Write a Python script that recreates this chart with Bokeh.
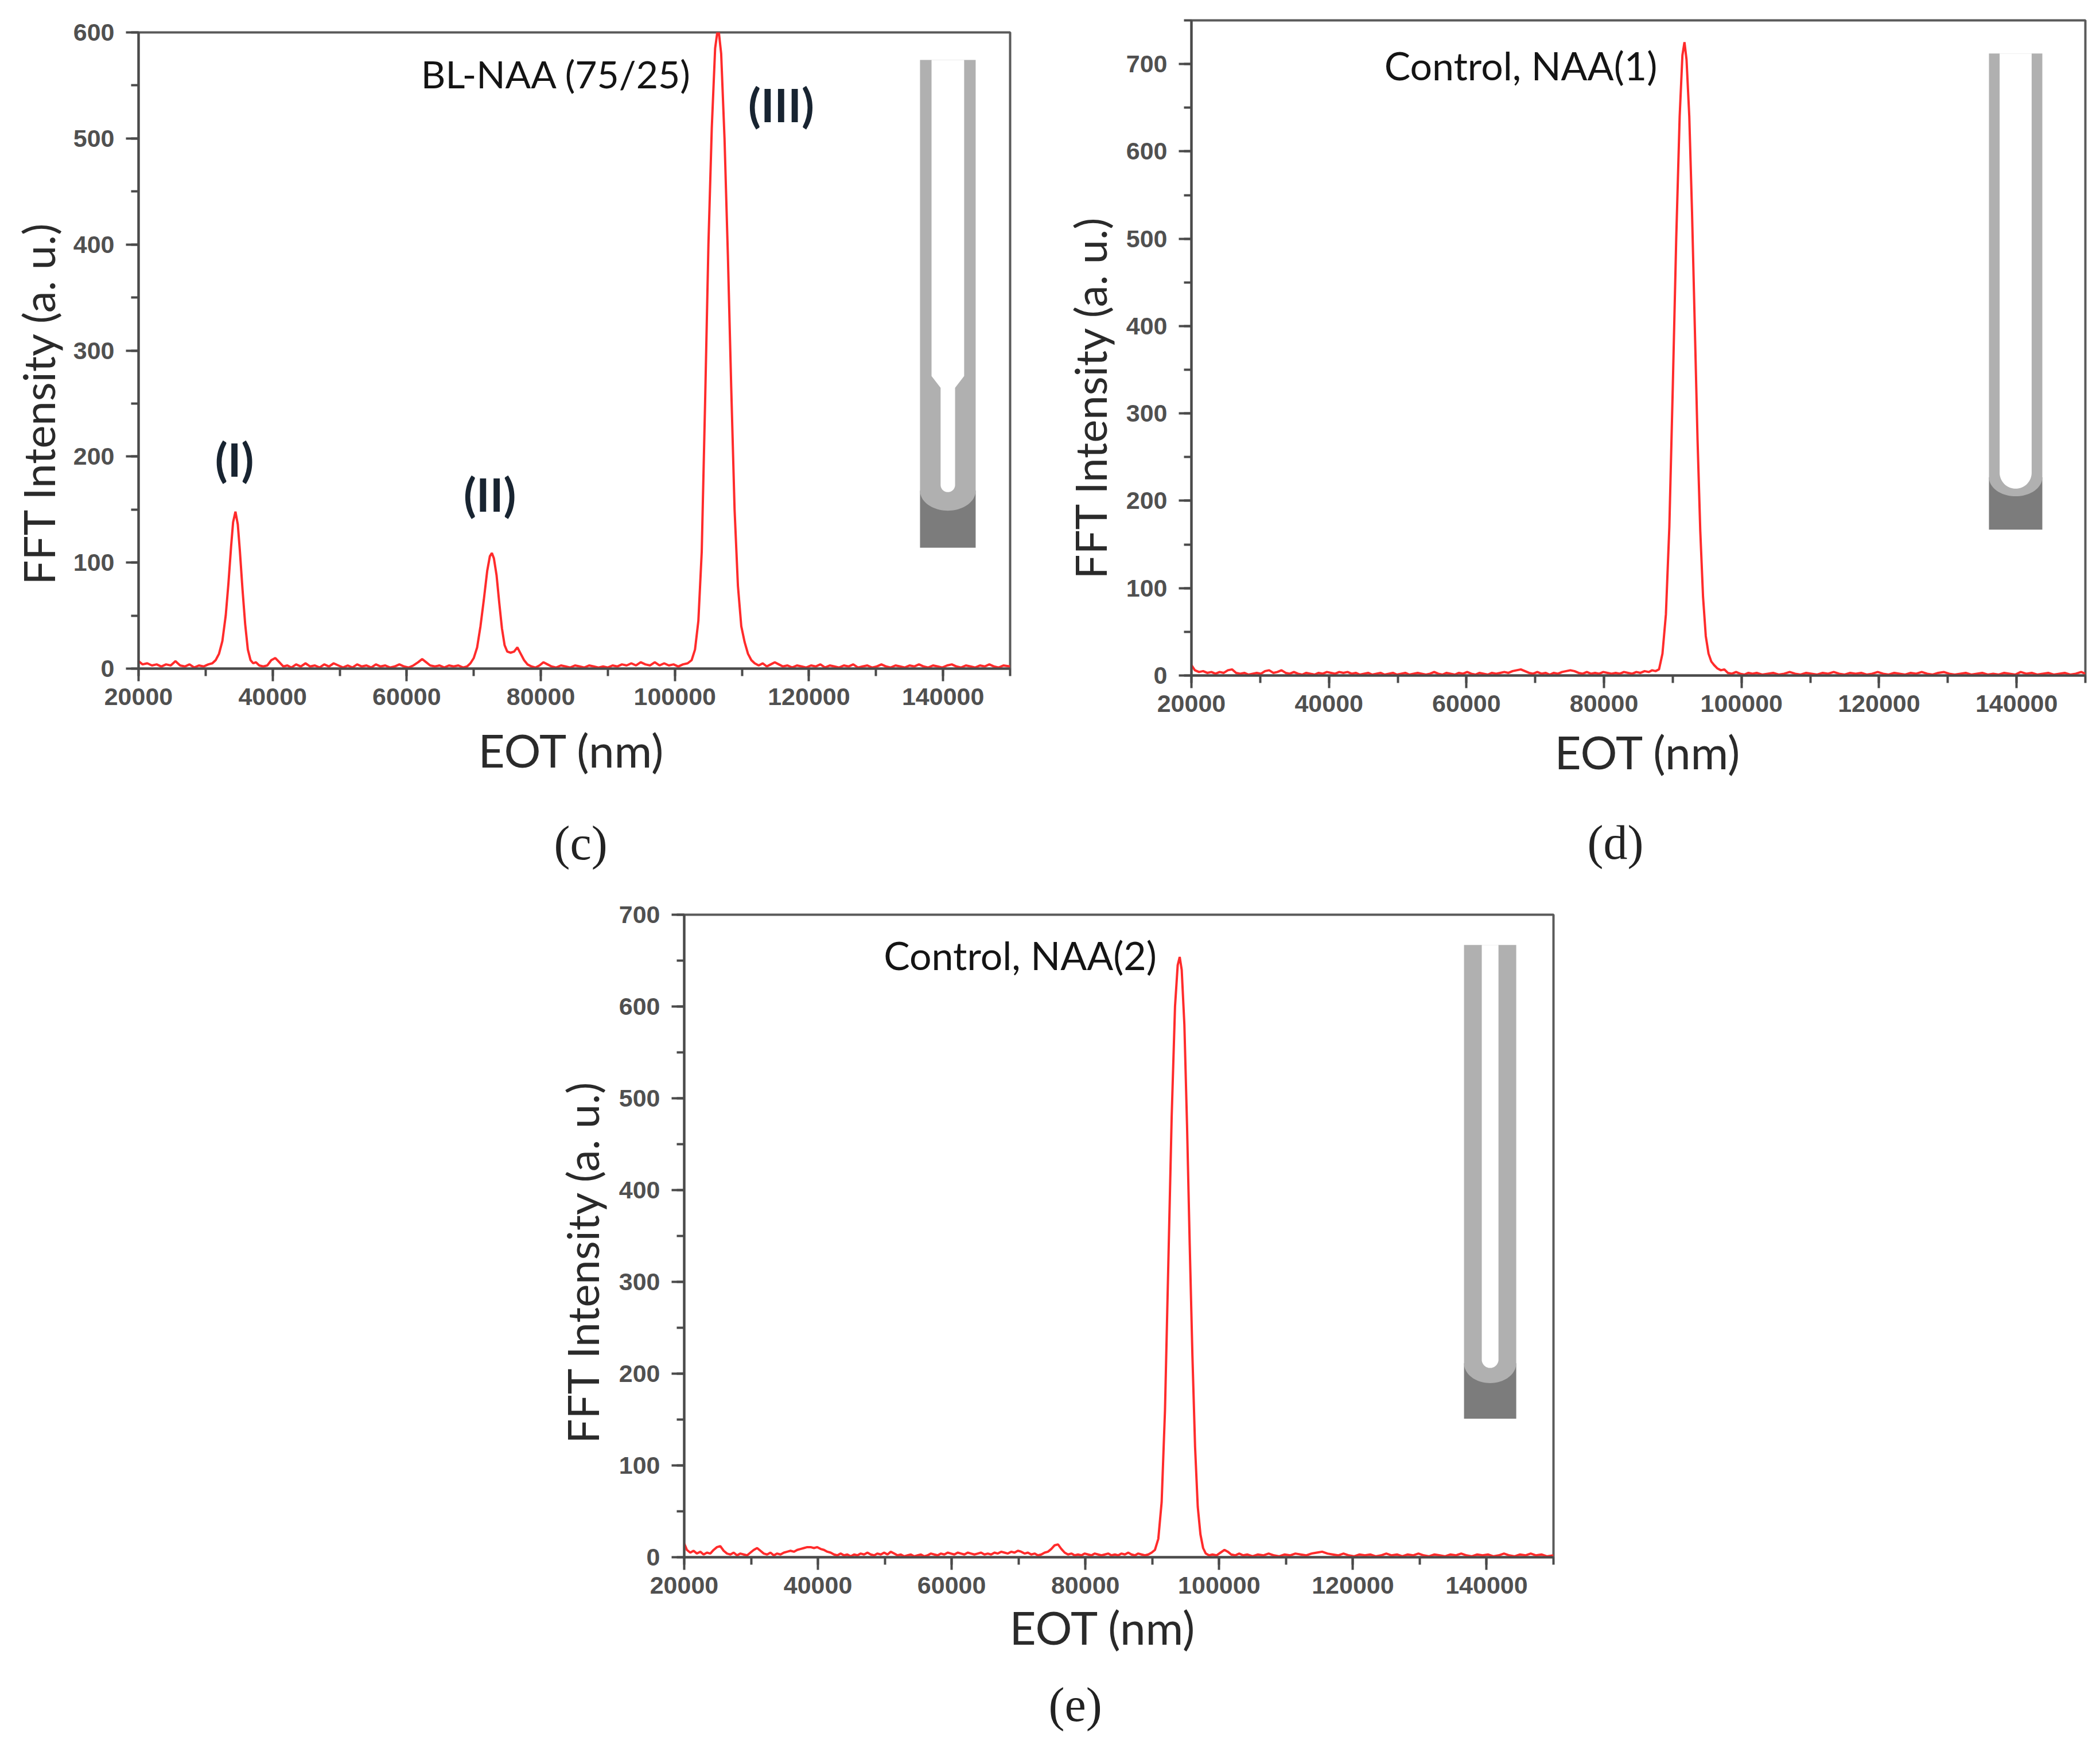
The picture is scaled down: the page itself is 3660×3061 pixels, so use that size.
import math
from bokeh.plotting import figure
from bokeh.layouts import row, column
from bokeh.models import Range1d, SingleIntervalTicker, BasicTickFormatter, Title, Label, Spacer
from bokeh.embed import file_html
from bokeh.resources import INLINE

# ---------------- data (EOT nm, FFT intensity a.u.) ----------------
spectrum_c = [
    (20000, 7), (20600, 4), (21300, 5), (22000, 3), (22700, 4), (23400, 2), (24100, 4), (24800, 3),
    (25500, 7), (26200, 3), (26900, 2), (27600, 4), (28300, 1), (29000, 3), (29700, 2), (30400, 4),
    (31000, 5), (31500, 8), (32000, 14), (32500, 26), (33000, 50), (33400, 80), (33800, 115),
    (34100, 138), (34450, 148), (34800, 136), (35100, 112), (35500, 75), (35900, 42), (36300, 18),
    (36700, 8), (37100, 5), (37500, 6), (38000, 3), (38600, 2), (39200, 3), (39800, 8), (40400, 10),
    (41000, 6), (41600, 2), (42200, 3), (42800, 1), (43500, 4), (44200, 2), (44900, 5), (45600, 2),
    (46300, 3), (47000, 1), (47700, 4), (48400, 2), (49100, 5), (49800, 3), (50500, 1), (51200, 3),
    (51900, 1), (52600, 4), (53300, 2), (54000, 3), (54700, 1), (55400, 4), (56100, 2), (56800, 3),
    (57500, 1), (58200, 2), (58900, 4), (59600, 2), (60300, 1), (61000, 3), (61700, 6), (62300, 9),
    (62900, 6), (63500, 3), (64200, 2), (64900, 3), (65600, 1), (66300, 3), (67000, 2), (67700, 3),
    (68400, 1), (69000, 2), (69500, 5), (70000, 10), (70500, 20), (71000, 40), (71500, 65),
    (72000, 92), (72400, 106), (72700, 109), (73000, 104), (73400, 88), (73800, 62), (74200, 38),
    (74600, 22), (75000, 16), (75500, 15), (76000, 16), (76500, 20), (77000, 14), (77500, 8),
    (78000, 4), (78600, 2), (79200, 1), (79800, 3), (80400, 6), (81000, 4), (81600, 2), (82300, 1),
    (83000, 3), (83700, 2), (84400, 1), (85100, 3), (85800, 2), (86500, 1), (87200, 3), (87900, 2),
    (88600, 1), (89300, 2), (90000, 1), (90700, 3), (91400, 2), (92100, 4), (92800, 3), (93500, 5),
    (94200, 3), (94900, 6), (95600, 4), (96300, 3), (97000, 6), (97700, 3), (98400, 5), (99100, 3),
    (99800, 4), (100500, 2), (101200, 4), (101900, 5), (102500, 8), (103000, 18), (103500, 45),
    (104000, 110), (104500, 250), (105000, 400), (105500, 510), (106000, 585), (106450, 606),
    (106900, 580), (107400, 500), (107900, 390), (108400, 265), (108900, 150), (109400, 78),
    (109900, 40), (110400, 25), (110900, 14), (111400, 8), (111900, 5), (112500, 3), (113100, 5),
    (113700, 2), (114300, 4), (114900, 6), (115500, 4), (116100, 2), (116800, 3), (117500, 1),
    (118200, 3), (118900, 2), (119600, 1), (120300, 3), (121000, 2), (121700, 4), (122400, 1),
    (123100, 3), (123800, 2), (124500, 1), (125200, 3), (125900, 2), (126600, 4), (127300, 1),
    (128000, 2), (128700, 3), (129400, 1), (130100, 2), (130800, 4), (131500, 2), (132200, 1),
    (132900, 3), (133600, 2), (134300, 1), (135000, 3), (135700, 2), (136400, 4), (137100, 2),
    (137800, 1), (138500, 3), (139200, 2), (139900, 1), (140600, 3), (141300, 4), (142000, 2),
    (142700, 1), (143400, 3), (144100, 2), (144800, 1), (145500, 3), (146200, 2), (146900, 4),
    (147600, 2), (148300, 1), (149000, 3), (150000, 2),
]

spectrum_d = [
    (20000, 12), (20500, 6), (21100, 4), (21700, 5), (22300, 3), (22900, 4), (23500, 2), (24100, 4),
    (24700, 3), (25300, 6), (25900, 7), (26500, 3), (27100, 2), (27700, 3), (28300, 1), (28900, 2),
    (29500, 3), (30100, 2), (30700, 5), (31300, 6), (31900, 3), (32500, 4), (33100, 6), (33700, 3),
    (34300, 2), (34900, 4), (35500, 2), (36100, 1), (36700, 3), (37300, 2), (37900, 1), (38500, 3),
    (39100, 2), (39700, 4), (40300, 3), (40900, 2), (41500, 4), (42100, 3), (42700, 4), (43300, 2),
    (43900, 3), (44500, 1), (45100, 2), (45700, 3), (46300, 1), (46900, 2), (47500, 3), (48100, 1),
    (48700, 2), (49300, 3), (49900, 1), (50500, 2), (51100, 3), (51700, 1), (52300, 2), (52900, 3),
    (53500, 2), (54100, 1), (54700, 2), (55300, 4), (55900, 2), (56500, 1), (57100, 3), (57700, 2),
    (58300, 1), (58900, 3), (59500, 2), (60100, 4), (60700, 2), (61300, 1), (61900, 3), (62500, 2),
    (63100, 1), (63700, 3), (64300, 2), (64900, 3), (65500, 4), (66100, 3), (66700, 5), (67300, 6),
    (67900, 7), (68500, 5), (69100, 3), (69700, 2), (70300, 4), (70900, 2), (71500, 3), (72100, 1),
    (72700, 3), (73300, 2), (73900, 4), (74500, 5), (75100, 6), (75700, 5), (76300, 3), (76900, 2),
    (77500, 4), (78100, 2), (78700, 3), (79300, 2), (79900, 4), (80500, 3), (81100, 2), (81700, 3),
    (82300, 2), (82900, 4), (83500, 3), (84100, 2), (84700, 4), (85300, 3), (85900, 5), (86500, 4),
    (87000, 6), (87500, 5), (88000, 7), (88500, 25), (89000, 70), (89500, 170), (90000, 330),
    (90500, 500), (91000, 640), (91400, 710), (91700, 725), (92000, 705), (92400, 640), (92800, 530),
    (93200, 400), (93600, 270), (94000, 165), (94400, 90), (94800, 45), (95200, 25), (95600, 16),
    (96000, 12), (96500, 8), (97000, 6), (97500, 7), (98000, 3), (98600, 2), (99200, 4), (99800, 2),
    (100400, 1), (101000, 3), (101600, 2), (102200, 3), (103000, 1), (103800, 2), (104600, 3),
    (105400, 1), (106200, 2), (107000, 4), (107800, 2), (108600, 1), (109400, 3), (110200, 2),
    (111000, 1), (111800, 3), (112600, 2), (113400, 4), (114200, 2), (115000, 1), (115800, 3),
    (116600, 2), (117400, 3), (118200, 1), (119000, 2), (119800, 4), (120600, 2), (121400, 1),
    (122200, 3), (123000, 2), (123800, 1), (124600, 3), (125400, 2), (126200, 4), (127000, 2),
    (127800, 1), (128600, 3), (129400, 4), (130200, 2), (131000, 1), (131800, 2), (132600, 3),
    (133400, 1), (134200, 2), (135000, 3), (135800, 1), (136600, 2), (137400, 1), (138200, 3),
    (139000, 2), (139800, 1), (140600, 4), (141400, 2), (142200, 3), (143000, 1), (143800, 2),
    (144600, 3), (145400, 1), (146200, 2), (147000, 3), (147800, 1), (148600, 2), (149400, 4),
    (150000, 2),
]

spectrum_e = [
    (20000, 15), (20400, 8), (20900, 5), (21400, 7), (21900, 4), (22400, 6), (22900, 3), (23400, 5),
    (23900, 4), (24400, 8), (24900, 11), (25400, 12), (25900, 7), (26400, 4), (26900, 3), (27400, 5),
    (27900, 2), (28400, 4), (28900, 3), (29400, 2), (29900, 5), (30400, 8), (30900, 10), (31400, 7),
    (31900, 4), (32400, 3), (32900, 5), (33400, 2), (33900, 4), (34400, 3), (34900, 5), (35400, 6),
    (35900, 7), (36400, 6), (36900, 8), (37400, 9), (37900, 10), (38400, 11), (38900, 11),
    (39400, 10), (39900, 11), (40400, 9), (40900, 8), (41400, 6), (41900, 5), (42400, 3), (42900, 2),
    (43400, 4), (43900, 2), (44400, 3), (44900, 1), (45400, 3), (45900, 2), (46400, 4), (46900, 3),
    (47400, 5), (47900, 3), (48400, 2), (48900, 4), (49400, 3), (49900, 5), (50400, 3), (50900, 6),
    (51400, 4), (51900, 2), (52400, 3), (52900, 1), (53400, 2), (53900, 3), (54400, 1), (54900, 2),
    (55400, 3), (55900, 1), (56400, 2), (56900, 4), (57400, 3), (57900, 2), (58400, 4), (58900, 3),
    (59400, 5), (59900, 4), (60400, 3), (60900, 5), (61400, 4), (61900, 3), (62400, 5), (62900, 4),
    (63400, 3), (63900, 4), (64400, 5), (64900, 3), (65400, 4), (65900, 3), (66400, 5), (66900, 4),
    (67400, 6), (67900, 5), (68400, 4), (68900, 6), (69400, 5), (69900, 7), (70400, 6), (70900, 4),
    (71400, 5), (71900, 3), (72400, 4), (72900, 2), (73400, 3), (73900, 5), (74400, 6), (74900, 9),
    (75400, 13), (75900, 14), (76400, 9), (76900, 5), (77400, 3), (77900, 4), (78400, 2), (78900, 3),
    (79400, 2), (79900, 4), (80400, 3), (80900, 2), (81400, 4), (81900, 3), (82400, 2), (82900, 3),
    (83400, 4), (83900, 2), (84400, 3), (84900, 2), (85400, 4), (85900, 3), (86400, 5), (86900, 3),
    (87400, 2), (87900, 4), (88400, 3), (88900, 2), (89400, 3), (89900, 5), (90400, 8), (90900, 20),
    (91400, 60), (91900, 160), (92400, 320), (92900, 480), (93400, 600), (93800, 645), (94100, 654),
    (94400, 640), (94800, 580), (95200, 470), (95600, 340), (96000, 220), (96400, 120), (96800, 55),
    (97200, 25), (97600, 10), (98000, 4), (98500, 2), (99000, 3), (99600, 2), (100200, 5),
    (100800, 8), (101300, 6), (101800, 3), (102400, 2), (103000, 4), (103600, 2), (104200, 3),
    (105000, 1), (105800, 3), (106600, 2), (107400, 4), (108200, 2), (109000, 1), (109800, 3),
    (110600, 2), (111400, 4), (112200, 3), (113000, 2), (113800, 4), (114600, 5), (115400, 6),
    (116200, 4), (117000, 3), (117800, 2), (118600, 4), (119400, 2), (120200, 1), (121000, 3),
    (121800, 2), (122600, 3), (123400, 1), (124200, 2), (125000, 4), (125800, 2), (126600, 3),
    (127400, 1), (128200, 3), (129000, 2), (129800, 4), (130600, 2), (131400, 1), (132200, 3),
    (133000, 2), (133800, 1), (134600, 3), (135400, 2), (136200, 4), (137000, 2), (137800, 1),
    (138600, 3), (139400, 2), (140200, 3), (141000, 1), (141800, 2), (142600, 4), (143400, 2),
    (144200, 1), (145000, 3), (145800, 2), (146600, 4), (147400, 2), (148200, 3), (149000, 1),
    (150000, 2),
]

x_label = "EOT (nm)"
y_label = "FFT Intensity (a. u.)"
panel_names = ["(c)", "(d)", "(e)"]
sample_names = ["BL-NAA (75/25)", "Control, NAA(1)", "Control, NAA(2)"]
peak_names = ["(I)", "(II)", "(III)"]

# ---------------- styles ----------------
RED = "#ff2b2b"
AX = "#4a4a4a"
TICK_FONT = "Liberation Sans, Arial, sans-serif"
LAB_FONT = "Lato, Carlito, sans-serif"
LIGHT = "#b0b0b0"
DARK = "#7c7c7c"
PEAK_COL = "#182431"

# common borders (Bokeh syncs borders of plots sharing a row/column)
B_LEFT, B_RIGHT, B_TOP = 240, 20, 30


def make_fig(frame_w, frame_h, bottom, ymax):
    p = figure(width=B_LEFT + frame_w + B_RIGHT, height=B_TOP + frame_h + bottom,
               output_backend="svg", toolbar_location=None, title=None,
               x_range=Range1d(20000, 150000), y_range=Range1d(0, ymax),
               min_border_left=B_LEFT, min_border_right=B_RIGHT,
               min_border_top=B_TOP, min_border_bottom=bottom)
    p.background_fill_color = "white"
    p.border_fill_color = "white"
    p.grid.visible = False
    p.outline_line_color = "#5a5a5a"
    p.outline_line_width = 4
    p.xaxis.ticker = SingleIntervalTicker(interval=20000, num_minor_ticks=2)
    p.yaxis.ticker = SingleIntervalTicker(interval=100, num_minor_ticks=2)
    p.xaxis.formatter = BasicTickFormatter(use_scientific=False)
    for ax in p.axis:
        ax.axis_line_color = AX
        ax.axis_line_width = 4
        ax.major_tick_line_color = AX
        ax.major_tick_line_width = 4
        ax.major_tick_in = 0
        ax.major_tick_out = 22
        ax.minor_tick_line_color = AX
        ax.minor_tick_line_width = 4
        ax.minor_tick_in = 0
        ax.minor_tick_out = 13
        ax.major_label_text_font = TICK_FONT
        ax.major_label_text_font_size = "43px"
        ax.major_label_text_font_style = "bold"
        ax.major_label_text_color = "#505050"
    p.xaxis.major_label_standoff = 12
    p.yaxis.major_label_standoff = 20
    return p


def gap(p, size, side="below"):
    p.add_layout(Title(text=" ", text_font_size="1px", standoff=size), side)


def add_labels(p, ylab_offset, ylab_standoff, gap1, xlab_offset, gap2, cap_offset, caption):
    p.add_layout(Title(text=y_label, align="left", offset=ylab_offset, standoff=ylab_standoff,
                       text_font=LAB_FONT, text_font_size="76px", text_font_style="normal",
                       text_color="#2a2a2a"), "left")
    gap(p, gap1)
    p.add_layout(Title(text=x_label, align="left", offset=xlab_offset, standoff=0,
                       text_font=LAB_FONT, text_font_size="80px", text_font_style="normal",
                       text_color="#2a2a2a"), "below")
    gap(p, gap2)
    p.add_layout(Title(text=caption, align="left", offset=cap_offset, standoff=0,
                       text_font="Liberation Serif", text_font_size="84px", text_font_style="normal",
                       text_color="#222222"), "below")


def schematic(p, box, W, H, wall, narrow, inner_bottom, dark_top, arc_bottom):
    """Inset sketch of the pore: box=(x0, x1, ytop, ybot) in data units, shape drawn in px proportions."""
    x0, x1, ytop, ybot = box
    mx = lambda u: x0 + u / W * (x1 - x0)
    my = lambda v: ytop - v / H * (ytop - ybot)
    n = 40
    p.quad(left=x0, right=x1, top=my(dark_top * H), bottom=ybot, fill_color=DARK, line_color=None)
    cy = dark_top * H
    pts = [(0, 0), (W, 0), (W, cy)]
    for i in range(1, n):
        t = i / n * math.pi
        pts.append((W / 2 + W / 2 * math.cos(t), cy + (arc_bottom - dark_top) * H * math.sin(t)))
    pts.append((0, cy))
    p.patch([mx(a) for a, b in pts], [my(b) for a, b in pts], fill_color=LIGHT, line_color=None)
    wl, wr = wall * W, (1 - wall) * W
    if narrow is not None:
        gl, gr, v0, v1 = narrow[0] * W, narrow[1] * W, narrow[2] * H, narrow[3] * H
    else:
        gl, gr = wl, wr
    r = (gr - gl) / 2
    cx = (gl + gr) / 2
    cyc = inner_bottom * H - r
    pts = [(wl, 0), (wr, 0)]
    if narrow is not None:
        pts += [(wr, v0), (gr, v1)]
    pts.append((gr, cyc))
    for i in range(1, n):
        t = i / n * math.pi
        pts.append((cx + r * math.cos(t), cyc + r * math.sin(t)))
    pts.append((gl, cyc))
    if narrow is not None:
        pts += [(gl, v1), (wl, v0)]
    p.patch([mx(a) for a, b in pts], [my(b) for a, b in pts], fill_color="white", line_color=None)


def text(p, x, y, s, size, bold=False, color="#141414"):
    p.add_layout(Label(x=x, y=y, text=s, text_align="center", text_baseline="middle",
                       text_font=LAB_FONT, text_font_size=size,
                       text_font_style="bold" if bold else "normal", text_color=color))


def draw(p, spectrum):
    xs = [a for a, b in spectrum]
    ys = [b for a, b in spectrum]
    p.line(xs, ys, line_color=RED, line_width=4)


# ---------------- panel (c) ----------------
pc = make_fig(1519, 1109, 380, 600)
schematic(pc, (136560, 144860, 574, 114), 97, 851, 0.207, (0.37, 0.63, 0.648, 0.672), 0.886, 0.883, 0.924)
draw(pc, spectrum_c)
text(pc, 82300, 561, sample_names[0], "66px")
text(pc, 34300, 198, peak_names[0], "80px", bold=True, color=PEAK_COL)
text(pc, 72400, 165, peak_names[1], "80px", bold=True, color=PEAK_COL)
text(pc, 115850, 532, peak_names[2], "80px", bold=True, color=PEAK_COL)
add_labels(pc, 146, 25, 22, 592, 63, 724, panel_names[0])

# ---------------- panel (d) ----------------
pd_ = make_fig(1558, 1142, 380, 750)
schematic(pd_, (135980, 143740, 712, 167), 93, 830, 0.2, None, 0.914, 0.89, 0.93)
draw(pd_, spectrum_d)
text(pd_, 67900, 699, sample_names[1], "68px")
add_labels(pd_, 168, 30, 13, 633, 59, 690, panel_names[1])

# ---------------- panel (e) ----------------
pe = make_fig(1516, 1120, 335, 700)
schematic(pe, (136620, 144430, 667, 151), 91, 826, 0.34, None, 0.893, 0.883, 0.925)
draw(pe, spectrum_e)
text(pe, 70250, 656, sample_names[2], "68px")
add_labels(pe, 198, 31, 2, 567, 36, 635, panel_names[2])

# placement: frames at c (241,56), d (2076,35), e (1191,1594)
row1 = row(Spacer(width=241 - B_LEFT, height=10),
           column(Spacer(width=10, height=56 - B_TOP), pc),
           Spacer(width=(2076 - B_LEFT) - (241 - B_LEFT + pc.width), height=10),
           column(Spacer(width=10, height=35 - B_TOP), pd_))
row1_h = max(56 - B_TOP + pc.height, 35 - B_TOP + pd_.height)
row2 = row(Spacer(width=1191 - B_LEFT, height=10),
           column(Spacer(width=10, height=1594 - B_TOP - row1_h), pe))
layout = column(row1, row2)
open("out.html", "w").write(file_html(layout, INLINE))
